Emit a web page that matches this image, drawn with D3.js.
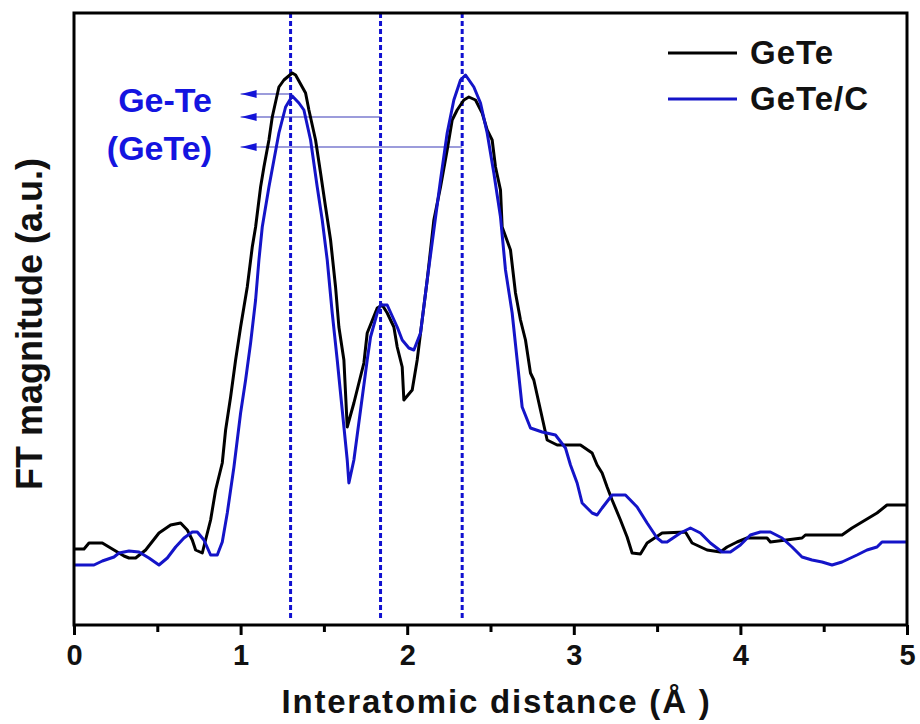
<!DOCTYPE html>
<html>
<head>
<meta charset="utf-8">
<script src="https://cdn.jsdelivr.net/npm/d3@7"></script>
<style>
  body { margin: 0; background: #fff; }
  text { font-family: "Liberation Sans", Arial, sans-serif; font-weight: bold; }
</style>
</head>
<body>
<svg class="chart"></svg>
<script>
// GeTe curve, [distance (Å), FT magnitude (a.u.)]
var geTe = [
  [0.00,0.76],[0.06,0.76],[0.09,0.82],[0.17,0.82],[0.24,0.75],[0.30,0.69],[0.33,0.67],[0.37,0.67],
  [0.43,0.75],[0.51,0.92],[0.58,1.00],[0.64,1.02],[0.68,0.95],[0.71,0.85],[0.73,0.75],[0.77,0.72],
  [0.82,1.05],[0.85,1.35],[0.89,1.62],[0.91,1.95],[0.94,2.28],[0.97,2.65],[1.00,2.98],[1.02,3.18],
  [1.04,3.38],[1.07,3.78],[1.09,3.98],[1.12,4.38],[1.14,4.58],[1.17,4.85],[1.19,5.08],[1.23,5.38],
  [1.26,5.45],[1.31,5.52],[1.33,5.50],[1.39,5.32],[1.41,5.15],[1.45,4.85],[1.48,4.52],[1.51,4.18],
  [1.54,3.85],[1.57,3.38],[1.59,2.98],[1.62,2.65],[1.64,1.98],[1.68,2.22],[1.74,2.62],[1.76,2.92],
  [1.82,3.17],[1.85,3.20],[1.88,3.12],[1.92,2.98],[1.94,2.78],[1.97,2.58],[1.98,2.25],[2.03,2.35],
  [2.06,2.65],[2.08,2.92],[2.12,3.45],[2.16,4.05],[2.20,4.38],[2.24,4.75],[2.27,5.05],[2.30,5.15],
  [2.34,5.25],[2.37,5.28],[2.41,5.25],[2.45,5.12],[2.48,4.95],[2.51,4.85],[2.53,4.58],[2.56,4.35],
  [2.57,3.98],[2.62,3.75],[2.65,3.32],[2.68,3.05],[2.71,2.85],[2.74,2.52],[2.76,2.45],[2.80,2.15],
  [2.84,1.85],[2.90,1.80],[3.04,1.80],[3.11,1.72],[3.14,1.60],[3.17,1.52],[3.20,1.38],[3.23,1.25],
  [3.28,1.05],[3.32,0.88],[3.35,0.72],[3.40,0.71],[3.44,0.82],[3.53,0.92],[3.67,0.93],[3.71,0.82],
  [3.80,0.75],[3.88,0.73],[3.92,0.78],[3.98,0.83],[4.04,0.87],[4.16,0.87],[4.18,0.83],[4.37,0.87],
  [4.39,0.90],[4.61,0.90],[4.67,0.97],[4.82,1.12],[4.88,1.20],[5.00,1.20]
];

// GeTe/C curve
var geTeC = [
  [0.00,0.60],[0.12,0.60],[0.17,0.64],[0.24,0.68],[0.27,0.72],[0.33,0.74],[0.39,0.73],[0.45,0.67],
  [0.51,0.60],[0.56,0.67],[0.61,0.78],[0.66,0.87],[0.71,0.93],[0.74,0.93],[0.78,0.85],[0.82,0.70],
  [0.86,0.70],[0.89,0.83],[0.92,1.12],[0.96,1.58],[1.00,2.12],[1.03,2.45],[1.06,2.82],[1.09,3.25],
  [1.11,3.65],[1.13,3.98],[1.17,4.38],[1.20,4.65],[1.23,4.92],[1.27,5.18],[1.31,5.29],[1.35,5.22],
  [1.38,5.15],[1.42,4.85],[1.46,4.38],[1.49,4.05],[1.52,3.65],[1.55,3.12],[1.58,2.65],[1.61,2.15],
  [1.64,1.65],[1.65,1.42],[1.68,1.65],[1.72,2.15],[1.76,2.65],[1.78,2.88],[1.82,3.12],[1.84,3.20],
  [1.88,3.20],[1.94,2.98],[1.97,2.85],[2.01,2.77],[2.04,2.75],[2.08,2.92],[2.12,3.45],[2.16,3.95],
  [2.20,4.45],[2.24,4.92],[2.28,5.25],[2.32,5.45],[2.35,5.50],[2.40,5.38],[2.44,5.22],[2.48,4.92],
  [2.52,4.52],[2.56,4.08],[2.59,3.55],[2.63,3.12],[2.66,2.65],[2.69,2.18],[2.74,1.97],[2.81,1.93],
  [2.89,1.90],[2.95,1.77],[2.98,1.60],[3.02,1.42],[3.05,1.22],[3.11,1.12],[3.14,1.10],[3.17,1.17],
  [3.23,1.30],[3.31,1.30],[3.38,1.18],[3.44,1.02],[3.50,0.87],[3.53,0.83],[3.56,0.83],[3.64,0.92],
  [3.70,0.97],[3.76,0.92],[3.82,0.82],[3.89,0.73],[3.94,0.73],[4.00,0.80],[4.06,0.90],[4.12,0.93],
  [4.18,0.93],[4.25,0.87],[4.31,0.78],[4.37,0.68],[4.43,0.65],[4.49,0.63],[4.55,0.60],[4.61,0.63],
  [4.70,0.70],[4.76,0.75],[4.82,0.78],[4.85,0.83],[5.00,0.83]
];

var peakLines = [1.30, 1.84, 2.33];     // dashed markers
var arrowLevels = [5.31, 5.08, 4.78];    // arrow heights, one per marker
var arrowEnd = 1.0;
var xTicks = [0, 1, 2, 3, 4, 5];
var xMinorTicks = [0.5, 1.5, 2.5, 3.5, 4.5];
var seriesNames = ["GeTe", "GeTe/C"];
var seriesColors = ["#000000", "#1414c8"];
var bondLabel = ["Ge-Te", "(GeTe)"];

var W = 920, H = 724;
var plot = {x0: 74, x1: 907, y0: 13, y1: 625};

var svg = d3.select(".chart").attr("width", W).attr("height", H);

var x = d3.scaleLinear().domain([0, 5]).range([plot.x0, plot.x1]);
var y = d3.scaleLinear().domain([0, 6.12]).range([plot.y1, plot.y0]);

var defs = svg.append("defs");
defs.append("marker")
    .attr("id", "head")
    .attr("viewBox", "0 0 16 10")
    .attr("refX", 0).attr("refY", 5)
    .attr("markerWidth", 16).attr("markerHeight", 10)
    .attr("markerUnits", "userSpaceOnUse")
    .attr("orient", "0")
  .append("path")
    .attr("d", "M0,5 L16,1 L16,9 Z")
    .attr("fill", "#1414d8");

// dashed peak markers
svg.selectAll(".peak")
    .data(peakLines)
  .enter().append("line")
    .attr("class", "peak")
    .attr("x1", function(d){ return x(d); })
    .attr("x2", function(d){ return x(d); })
    .attr("y1", plot.y0)
    .attr("y2", plot.y1 - 6)
    .attr("stroke", "#1010d0")
    .attr("stroke-width", 3)
    .attr("stroke-dasharray", "5,3");

// arrows
svg.selectAll(".arrow")
    .data(peakLines)
  .enter().append("line")
    .attr("class", "arrow")
    .attr("x1", function(d){ return x(d); })
    .attr("x2", x(arrowEnd))
    .attr("y1", function(d, i){ return y(arrowLevels[i]); })
    .attr("y2", function(d, i){ return y(arrowLevels[i]); })
    .attr("stroke", "#3a3ab8")
    .attr("stroke-width", 1.2)
    .attr("marker-end", "url(#head)");

var line = d3.line()
    .x(function(d){ return x(d[0]); })
    .y(function(d){ return y(d[1]); });

[geTe, geTeC].forEach(function(data, i){
    svg.append("path")
        .datum(data)
        .attr("fill", "none")
        .attr("stroke", seriesColors[i])
        .attr("stroke-width", 3)
        .attr("stroke-linejoin", "round")
        .attr("d", line);
});

// frame
svg.append("rect")
    .attr("x", plot.x0).attr("y", plot.y0)
    .attr("width", plot.x1 - plot.x0).attr("height", plot.y1 - plot.y0)
    .attr("fill", "none")
    .attr("stroke", "#000")
    .attr("stroke-width", 3);

// bottom axis
var xAxis = d3.axisBottom(x).tickValues(xTicks).tickFormat(d3.format("d")).tickSize(10).tickPadding(9);
var gx = svg.append("g")
    .attr("transform", "translate(0," + plot.y1 + ")")
    .call(xAxis);
gx.select(".domain").remove();
gx.selectAll(".tick line").attr("stroke-width", 3);
gx.selectAll(".tick text")
    .style("font-size", "29px")
    .attr("fill", "#111");

var gxm = svg.append("g")
    .attr("transform", "translate(0," + plot.y1 + ")")
    .call(d3.axisBottom(x).tickValues(xMinorTicks).tickFormat("").tickSize(7));
gxm.select(".domain").remove();
gxm.selectAll(".tick line").attr("stroke-width", 3);

// axis labels
svg.append("text")
    .attr("x", (plot.x0 + plot.x1) / 2 + 6)
    .attr("y", 713)
    .attr("text-anchor", "middle")
    .attr("font-size", 33)
    .attr("letter-spacing", 1.8)
    .attr("fill", "#111")
    .text("Interatomic distance (Å )");

svg.append("text")
    .attr("transform", "translate(42," + ((plot.y0 + plot.y1) / 2 + 5) + ") rotate(-90)")
    .attr("text-anchor", "middle")
    .attr("font-size", 36)
    .attr("fill", "#111")
    .text("FT magnitude (a.u.)");

// bond annotation
svg.selectAll(".bond")
    .data(bondLabel)
  .enter().append("text")
    .attr("class", "bond")
    .attr("x", 212)
    .attr("y", function(d, i){ return 112 + i * 48; })
    .attr("text-anchor", "end")
    .attr("font-size", 34)
    .attr("fill", "#1414e0")
    .text(function(d){ return d; });

// legend
var legend = svg.selectAll(".legend")
    .data(seriesNames)
  .enter().append("g")
    .attr("class", "legend")
    .attr("transform", function(d, i){ return "translate(668," + (53 + i * 46) + ")"; });

legend.append("line")
    .attr("x1", 0).attr("x2", 69)
    .attr("stroke", function(d, i){ return seriesColors[i]; })
    .attr("stroke-width", 3);

legend.append("text")
    .attr("x", 82)
    .attr("y", 11)
    .attr("font-size", 33)
    .attr("letter-spacing", 1)
    .attr("fill", "#111")
    .text(function(d){ return d; });
</script>
</body>
</html>
